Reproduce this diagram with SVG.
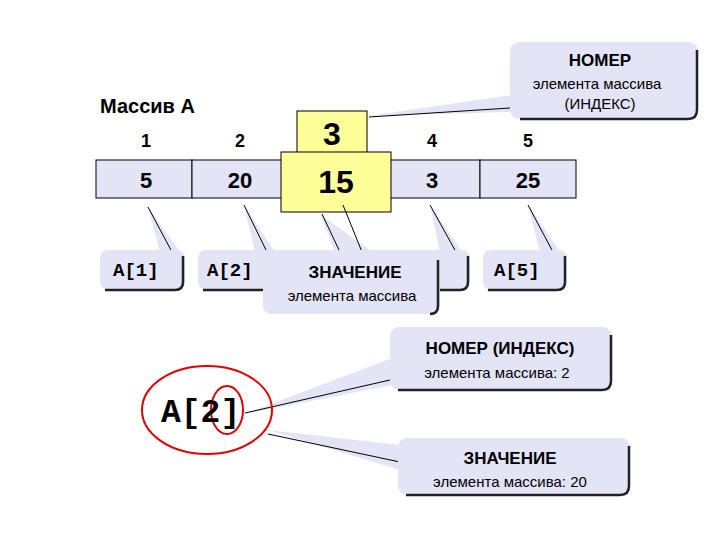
<svg xmlns="http://www.w3.org/2000/svg" width="720" height="540" viewBox="0 0 720 540">
<style>
.co{fill:#e4e4f7;stroke:none}
.sh{fill:none;stroke:#222;stroke-width:2.5}
.w{fill:#e4e4f7;stroke:none}
.ln{stroke:#000;stroke-width:1;fill:none}
.b{font-family:"Liberation Sans",Arial,sans-serif;font-weight:bold;fill:#000}
.r{font-family:"Liberation Sans",Arial,sans-serif;fill:#000}
.m{font-family:"Liberation Mono","Courier New",monospace;font-weight:bold;fill:#000}
.cell{fill:#e4e4f7;stroke:#000;stroke-width:1}
.y{fill:#ffff99;stroke:#000;stroke-width:1}
</style>
<rect width="720" height="540" fill="#fff"/>
<g id="title"><text class="b" x="100" y="113" font-size="20">Массив А</text></g>
<g id="indices" class="b" font-size="18" text-anchor="middle">
<text x="146" y="147">1</text><text x="240" y="147">2</text><text x="432" y="147">4</text><text x="528" y="147">5</text>
</g>
<g id="array">
<rect class="cell" x="96" y="160" width="96" height="38"/>
<rect class="cell" x="192" y="160" width="96" height="38"/>
<rect class="cell" x="288" y="160" width="96" height="38"/>
<rect class="cell" x="384" y="160" width="96" height="38"/>
<rect class="cell" x="480" y="160" width="96" height="38"/>
<g class="b" font-size="22" text-anchor="middle">
<text x="146" y="188">5</text><text x="240" y="188">20</text><text x="432" y="188">3</text><text x="528" y="188">25</text>
</g>
</g>
<g id="connectors">
<polygon class="w" points="368,116 512,95 512,112"/>
<line class="ln" x1="369" y1="117" x2="510" y2="108"/>
<polygon class="w" points="148,207 160,252 180,252"/>
<line class="ln" x1="148" y1="207" x2="172" y2="252"/>
<polygon class="w" points="244,205 255,252 275,252"/>
<line class="ln" x1="244" y1="205" x2="267" y2="252"/>
<polygon class="w" points="430,205 440,252 462,252"/>
<line class="ln" x1="430" y1="205" x2="456" y2="252"/>
<polygon class="w" points="528,205 540,252 560,252"/>
<line class="ln" x1="528" y1="205" x2="553" y2="252"/>
<polygon class="w" points="245,414 392,358 392,385"/>
<line class="ln" x1="245" y1="413" x2="390" y2="380"/>
<polygon class="w" points="268,430 400,445 400,470"/>
<line class="ln" x1="268" y1="434" x2="400" y2="462"/>
</g>
<g id="callout-a4">
<rect class="co" x="355" y="250" width="115" height="40" rx="8"/>
<path class="sh" d="M468,256 V282 Q468,290 460,290 H360"/>
</g>
<g id="callout-a1">
<rect class="co" x="100" y="250" width="85" height="40" rx="8"/>
<path class="sh" d="M183,256 V282 Q183,290 175,290 H105"/>
<text class="m" x="113" y="276" font-size="19">A[1]</text>
</g>
<g id="callout-a2">
<rect class="co" x="198" y="250" width="85" height="40" rx="8"/>
<path class="sh" d="M281,256 V282 Q281,290 273,290 H203"/>
<text class="m" x="207" y="276" font-size="19">A[2]</text>
</g>
<g id="callout-a5">
<rect class="co" x="483" y="250" width="84" height="40" rx="8"/>
<path class="sh" d="M565,256 V282 Q565,290 557,290 H488"/>
<text class="m" x="494" y="276" font-size="19">A[5]</text>
</g>
<g id="yellow">
<rect class="y" x="297" y="111" width="70" height="42"/>
<rect class="y" x="281" y="152" width="110" height="60"/>
<text class="b" x="332" y="145" font-size="32" text-anchor="middle">3</text>
<text class="b" x="336" y="193" font-size="32" text-anchor="middle">15</text>
</g>
<g id="callout-value">
<polygon class="w" points="320,214 335,252 372,252"/>
<line class="ln" x1="322" y1="214" x2="340" y2="252"/>
<line class="ln" x1="343" y1="205" x2="362" y2="252"/>
<rect class="co" x="263" y="250" width="177" height="64" rx="8"/>
<path class="sh" d="M438,260 V306 Q438,314 430,314"/>
<text class="b" x="355" y="278" font-size="17" text-anchor="middle">ЗНАЧЕНИЕ</text>
<text class="r" x="352" y="301" font-size="15" text-anchor="middle">элемента массива</text>
</g>
<g id="callout-index">
<rect class="co" x="510" y="42" width="188" height="77" rx="9"/>
<path class="sh" d="M697,50 V110 Q697,119 688,119 H520"/>
<text class="b" x="600" y="66" font-size="17" text-anchor="middle">НОМЕР</text>
<text class="r" x="597" y="89" font-size="15" text-anchor="middle">элемента массива</text>
<text class="r" x="600" y="109" font-size="15" text-anchor="middle">(ИНДЕКС)</text>
</g>
<g id="a2-big">
<ellipse cx="207" cy="410" rx="65" ry="44" fill="none" stroke="#e00000" stroke-width="2"/>
<ellipse cx="227" cy="410" rx="16" ry="24" fill="none" stroke="#e00000" stroke-width="2"/>
<text class="m" x="161" y="422" font-size="33">A[2]</text>
</g>
<g id="callout-index2">
<rect class="co" x="390" y="327" width="222" height="63" rx="9"/>
<path class="sh" d="M611,335 V381 Q611,390 602,390 H398"/>
<text class="b" x="500" y="354" font-size="17" text-anchor="middle">НОМЕР (ИНДЕКС)</text>
<text class="r" x="497" y="378" font-size="15" text-anchor="middle">элемента массива: 2</text>
</g>
<g id="callout-value2">
<rect class="co" x="398" y="438" width="232" height="57" rx="9"/>
<path class="sh" d="M629,446 V486 Q629,495 620,495 H406"/>
<text class="b" x="510" y="464" font-size="17" text-anchor="middle">ЗНАЧЕНИЕ</text>
<text class="r" x="510" y="487" font-size="15" text-anchor="middle">элемента массива: 20</text>
</g>
</svg>
